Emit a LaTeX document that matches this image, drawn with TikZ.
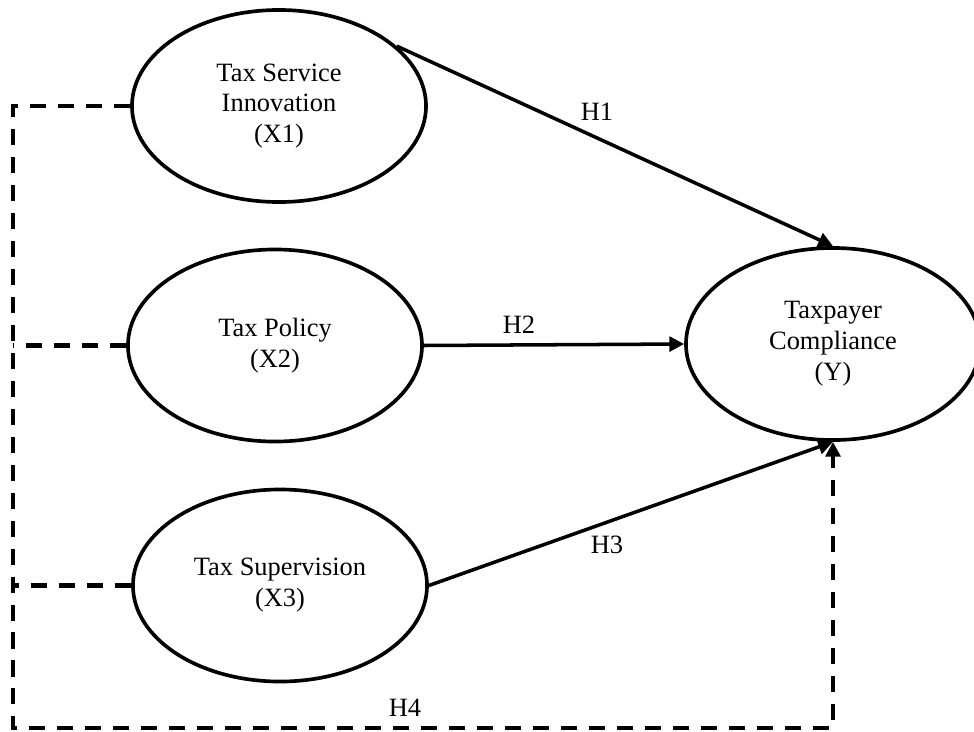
\documentclass[tikz,border=0pt]{standalone}
\usepackage{fontspec}
\setmainfont{Liberation Serif}
\usepackage{tikz}
\usetikzlibrary{shapes.geometric, arrows.meta}
\usetikzlibrary{calc}
\tikzstyle{latent} = [ellipse, draw = black, line width=2.6pt, minimum width=7.35cm, minimum height=4.8cm, inner sep=0pt, align=center, font=\fontsize{18.8}{22}\selectfont]
\tikzstyle{hyp} = [font=\fontsize{18.8}{22}\selectfont, inner sep=0pt]
\tikzstyle{arrow} = [line width=2.5pt, -{Triangle[length=10.5pt,width=10.5pt]}]
\tikzstyle{dline} = [line width=3pt, dash pattern=on 11.4pt off 8.5pt]

\begin{document}
\begin{tikzpicture}[x=0.025cm, y=-0.025cm]
	\useasboundingbox (0,0) rectangle (974,731);
	%konstruk
	\node (X1) [latent] at (279,106) {Tax Service\\Innovation\\(X1)};
	\node (X2) [latent] at (275,345.5) {Tax Policy\\(X2)};
	\node (X3) [latent] at (280,585.5) {Tax Supervision\\(X3)};
	\node (Y) [latent] at (833,344) {Taxpayer\\Compliance\\(Y)};
	\coordinate (bl) at (13,728);
	%hipotesis
	\draw [arrow](X1.27) -- (Y.north);
	\draw [arrow](X2.east) -- (Y.west);
	\draw [arrow](X3.east) -- (Y.south);
	\draw [arrow,dline](X1.west) -| (bl) -| (Y.south);
	\draw [dline](X2.west) -- (X2.west -| bl);
	\draw [dline](X3.west) -- (X3.west -| bl);
	\node (h1) [hyp] at (597,112) {H1};
	\node (h2) [hyp] at (519,325) {H2};
	\node (h3) [hyp] at (607,545) {H3};
	\node (h4) [hyp] at (405,708) {H4};
\end{tikzpicture}
\end{document}
